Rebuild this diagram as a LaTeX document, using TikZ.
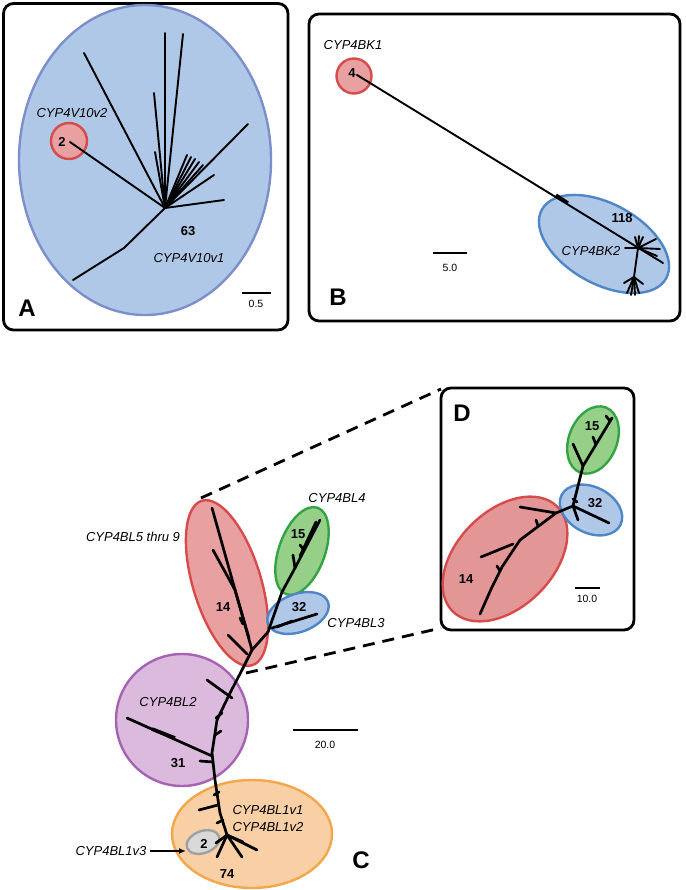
\documentclass[tikz,border=0pt]{standalone}
\usepackage{fontspec}
\setmainfont{Liberation Sans}
\usetikzlibrary{arrows.meta}

\definecolor{bluefill}{HTML}{B0C8E8}
\definecolor{blueAline}{HTML}{7D8ECB}
\definecolor{blueline}{HTML}{4F86C6}
\definecolor{redfill}{HTML}{E8A0A0}
\definecolor{redDfill}{HTML}{E39696}
\definecolor{redline}{HTML}{D64B4B}
\definecolor{greenfill}{HTML}{96CF88}
\definecolor{greenline}{HTML}{33A344}
\definecolor{purplefill}{HTML}{DBBADD}
\definecolor{purpleline}{HTML}{A463B4}
\definecolor{orangefill}{HTML}{F9CFA5}
\definecolor{orangeline}{HTML}{F2A74B}
\definecolor{grayfill}{HTML}{D9D9D9}
\definecolor{grayline}{HTML}{A0A0A0}

\tikzset{
    panel/.style={draw, line width=2.8pt, rounded corners=10pt},
    clade/.style={fill=#1fill, draw=#1line, line width=2.4pt},
    twig/.style={line width=1.9pt, line cap=round, line join=round},
    limb/.style={line width=2.7pt, line cap=round, line join=round},
    gene/.style={font=\fontsize{13}{15}\selectfont\itshape, inner sep=0pt},
    count/.style={font=\fontsize{13}{15}\selectfont\bfseries, inner sep=0pt},
    letter/.style={font=\fontsize{24}{28}\selectfont\bfseries, inner sep=0pt},
    scalebar/.style={line width=2.5pt},
    scaletext/.style={font=\fontsize{10.5}{12}\selectfont, inner sep=0pt},
    zoomline/.style={dashed, dash pattern=on 12pt off 8pt, line width=2.8pt}
}

\begin{document}
\begin{tikzpicture}[x=1pt, y=-1pt]
    \useasboundingbox (0,0) rectangle (685,890);

    % frames
    \draw [panel] (3.5,3.5) rectangle (288,330);
    \draw [panel] (309,14) rectangle (680,321);
    \draw [panel] (441,388) rectangle (634,630);

    % ---- A ----
    \draw [clade=blue, draw=blueAline] (145,160) ellipse [x radius=126, y radius=155];
    \draw [clade=red] (69,141) circle [radius=18];

    \coordinate (hubA) at (165,208);
    \foreach \tip in {(84,53), (165,33), (183,34), (154,93), (155,152), (248,124),
                      (214,175), (224,200), (187,155), (191,157), (195,159),
                      (199,162), (203,165), (70,142)} {
        \draw [twig] (hubA) -- \tip;
        }
    \draw [twig] (hubA) -- (124,248) -- (73,280);

    \node [count] (nA2) at (62,142) {2};
    \node [gene] (v10v2) at (72,113) {CYP4V10v2};
    \node [count] (nA63) at (188,231) {63};
    \node [gene] (v10v1) at (189,258) {CYP4V10v1};
    \draw [scalebar] (242,293) -- (271,293);
    \node [scaletext] (sA) at (256,304) {0.5};
    \node [letter] (labA) at (27,308) {A};

    % ---- B ----
    \draw [clade=blue, rotate around={-29:(604,244)}] (604,244) ellipse [x radius=71, y radius=40];
    \draw [clade=red] (354,76) circle [radius=17.5];

    \coordinate (hubB) at (638,248);
    \draw [twig] (357,75) -- (663,263);
    \draw [line width=3.2pt] (556,195) -- (568,203);
    \foreach \tip in {(625,248), (635,237), (639,236), (643,237), (656,239),
                      (660,249), (657,256)} {
        \draw [twig] (hubB) -- \tip;
        }
    \coordinate (forkB) at (634,277);
    \draw [twig] (hubB) -- (forkB);
    \foreach \tip in {(624,283), (627,293), (631,295), (635,295), (639,293), (643,284)} {
        \draw [twig] (forkB) -- \tip;
        }

    \node [count] (nB4) at (352,73) {4};
    \node [gene] (bk1) at (353,45) {CYP4BK1};
    \node [count] (nB118) at (622,218) {118};
    \node [gene] (bk2) at (591,251) {CYP4BK2};
    \draw [scalebar] (433,253) -- (467,253);
    \node [scaletext] (sB) at (450,268) {5.0};
    \node [letter] (labB) at (338,297) {B};

    % ---- D ----
    \draw [clade=red, fill=redDfill, rotate around={45:(505,559)}] (505,559) ellipse [x radius=74, y radius=48];
    \draw [clade=green, rotate around={68:(593,440)}] (593,440) ellipse [x radius=35, y radius=24];
    \draw [clade=blue, rotate around={-27:(591,510)}] (591,510) ellipse [x radius=33, y radius=23];

    \coordinate (hubD) at (573,506);
    \draw [limb] (hubD) -- (583,466) -- (612,418);
    \draw [limb] (583,466) -- (573,444);
    \draw [limb] (596,445) -- (593,437);
    \draw [limb] (610,421) -- (606,416);
    \draw [limb] (hubD) -- (609,523);
    \draw [limb] (hubD) -- (578,520);
    \draw [limb] (573,499) -- (577,502);
    \draw [limb] (hubD) -- (556,513) -- (520,540) -- (502,567) -- (492,587) -- (480,614);
    \draw [limb] (556,513) -- (520,507);
    \draw [limb] (513,544) -- (481,557);
    \draw [limb] (538,526) -- (536,520);
    \draw [limb] (500,571) -- (497,566);

    \node [count] (nD15) at (592,426) {15};
    \node [count] (nD32) at (595,503) {32};
    \node [count] (nD14) at (466,579) {14};
    \draw [scalebar] (575,588) -- (600,588);
    \node [scaletext] (sD) at (587,599) {10.0};
    \node [letter] (labD) at (462,413) {D};

    % ---- C ----
    \draw [clade=purple] (182,720) circle [radius=66];
    \draw [clade=red, rotate around={-73:(227,583)}] (227,583) ellipse [x radius=86, y radius=34];
    \draw [clade=green, rotate around={70:(302,551)}] (302,551) ellipse [x radius=46, y radius=23];
    \draw [clade=blue, rotate around={20:(298,613)}] (298,613) ellipse [x radius=32, y radius=19];
    \draw [clade=orange] (252,834) ellipse [x radius=80, y radius=54];
    \draw [clade=gray, rotate around={20:(203,842)}] (203,842) ellipse [x radius=17, y radius=11];

    \coordinate (hubC) at (227,835);
    \coordinate (forkC) at (268,632);
    \draw [limb] (hubC) -- (220,813) -- (215,780) -- (212,753) -- (217,720) -- (230,693)
        -- (242,670) -- (252,650) -- (forkC) -- (282,592) -- (295,568) -- (320,520);
    % green
    \draw [limb] (295,568) -- (293,555);
    \draw [limb] (300,556) -- (316,522);
    \draw [limb] (304,550) -- (300,545);
    % blue
    \draw [limb] (272,628) -- (317,614);
    \draw [limb] (277,627) -- (292,621);
    % red
    \draw [limb] (252,650) -- (212,508);
    \draw [limb] (249,638) -- (235,590) -- (213,550);
    \draw [limb] (228,635) -- (247,654);
    \draw [limb] (243,624) -- (240,618);
    % purple
    \draw [limb] (232,698) -- (207,680);
    \draw [limb] (212,756) -- (127,718);
    \draw [line width=3.6pt] (175,738) -- (152,729);
    \draw [limb] (213,762) -- (200,761);
    \draw [limb] (216,718) -- (222,713);
    \draw [limb] (215,735) -- (221,731);
    % orange
    \foreach \tip in {(217,857), (242,857), (257,850), (243,842), (216,843)} {
        \draw [limb] (hubC) -- \tip;
        }
    \draw [limb] (218,805) -- (199,810);
    \draw [limb] (214,795) -- (219,792);
    \draw [limb] (217,823) -- (223,820);

    \node [gene] (bl59) at (133,537) {CYP4BL5 thru 9};
    \node [gene] (bl4) at (337,498) {CYP4BL4};
    \node [gene] (bl3) at (356,623) {CYP4BL3};
    \node [gene] (bl2) at (168,702) {CYP4BL2};
    \node [gene] (bl1v1) at (268,810) {CYP4BL1v1};
    \node [gene] (bl1v2) at (268,827) {CYP4BL1v2};
    \node [gene] (bl1v3) at (111,851) {CYP4BL1v3};
    \node [count] (nC14) at (223,607) {14};
    \node [count] (nC15) at (298,534) {15};
    \node [count] (nC32) at (299,607) {32};
    \node [count] (nC31) at (178,763) {31};
    \node [count] (nC2) at (204,844) {2};
    \node [count] (nC74) at (227,874) {74};

    \coordinate (grayleft) at (186,851);
    \draw [line width=1.8pt, -{Latex[length=7pt, width=6pt]}] (bl1v3.east) ++(3,0) -- (grayleft);

    \draw [scalebar] (293,730) -- (358,730);
    \node [scaletext] (sC) at (325,745) {20.0};
    \node [letter] (labC) at (361,860) {C};

    % zoom lines
    \coordinate (cladetop) at (201,498);
    \coordinate (cladebot) at (246,673);
    \draw [zoomline] (cladetop) -- (441,389);
    \draw [zoomline] (cladebot) -- (441,628);
\end{tikzpicture}
\end{document}
